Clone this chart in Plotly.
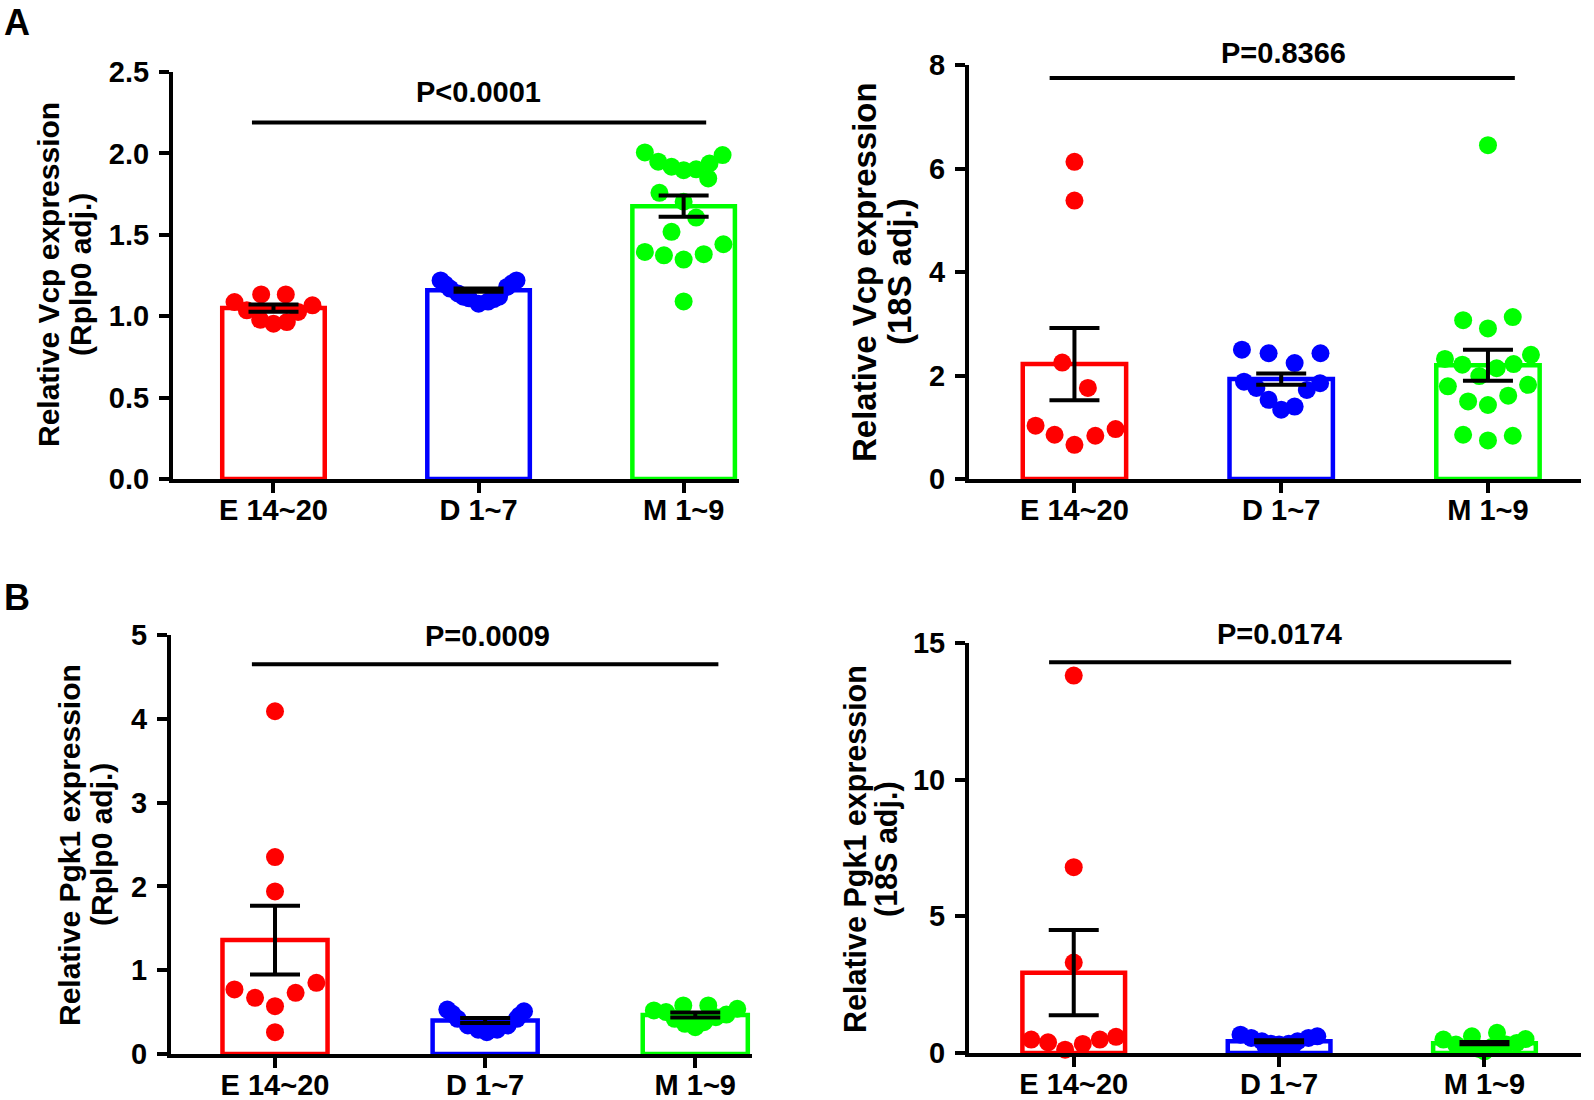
import plotly.graph_objects as go

groups = ["E 14~20", "D 1~7", "M 1~9"]
colors = ["#ff0000", "#0000ff", "#00ff00"]

# ---- Panel A left: Vcp (Rplp0 adj.) ----
a1_e = [1.087, 1.134, 1.134, 1.067, 1.036, 1.026, 0.978, 0.954, 0.964]
a1_e_dx = [-0.19, -0.06, 0.06, 0.19, -0.13, 0.12, -0.065, 0.0, 0.065]
a1_d = [1.22, 1.196, 1.17, 1.14, 1.12, 1.11, 1.077, 1.09, 1.105, 1.12, 1.18, 1.20, 1.22]
a1_d_dx = [-0.185, -0.163, -0.139, -0.10, -0.074, -0.046, 0.0, 0.046, 0.074, 0.10, 0.139, 0.163, 0.185]
a1_m = [2.006, 1.949, 1.918, 1.897, 1.902, 1.938, 1.99, 1.846, 1.758, 1.703,
        1.606, 1.518, 1.395, 1.374, 1.348, 1.381, 1.442, 1.091]
a1_m_dx = [-0.189, -0.124, -0.059, 0.0, 0.061, 0.126, 0.19, 0.12, -0.118, 0.0,
           0.061, -0.059, -0.189, -0.096, 0.0, 0.098, 0.194, 0.0]
a1_mean = [1.05, 1.16, 1.676]
a1_sem = [0.022, 0.01, 0.065]

# ---- Panel A right: Vcp (18S adj.) ----
a2_e = [6.13, 5.38, 2.25, 1.76, 1.03, 0.855, 0.66, 0.836, 0.965]
a2_e_dx = [0.0, 0.0, -0.059, 0.065, -0.188, -0.096, 0.0, 0.101, 0.199]
a2_d = [2.50, 2.43, 2.24, 2.43, 1.88, 1.76, 1.53, 1.34, 1.40, 1.72, 1.85]
a2_d_dx = [-0.19, -0.061, 0.065, 0.19, -0.18, -0.12, -0.061, 0.0, 0.065, 0.124, 0.188]
a2_m = [6.45, 3.07, 3.13, 2.91, 2.32, 2.21, 2.40, 2.22, 2.14, 1.99,
        1.79, 1.82, 1.50, 1.43, 1.61, 0.855, 0.746, 0.836]
a2_m_dx = [0.0, -0.12, 0.12, 0.0, -0.208, -0.124, 0.208, 0.124, 0.042, -0.042,
           -0.194, 0.194, -0.096, 0.0, 0.098, -0.12, 0.0, 0.12]
a2_mean = [2.22, 1.93, 2.2]
a2_sem = [0.70, 0.11, 0.30]

# ---- Panel B left: Pgk1 (Rplp0 adj.) ----
b1_e = [4.09, 2.35, 1.94, 0.77, 0.67, 0.57, 0.73, 0.85, 0.26]
b1_e_dx = [0.0, 0.0, 0.0, -0.193, -0.095, 0.0, 0.098, 0.197, 0.0]
b1_d = [0.53, 0.48, 0.42, 0.34, 0.29, 0.26, 0.29, 0.34, 0.42, 0.46, 0.51]
b1_d_dx = [-0.18, -0.156, -0.131, -0.082, -0.033, 0.008, 0.057, 0.107, 0.151, 0.164, 0.185]
b1_m = [0.52, 0.50, 0.58, 0.42, 0.36, 0.32, 0.38, 0.58, 0.44, 0.47, 0.54]
b1_m_dx = [-0.197, -0.139, -0.057, -0.098, -0.049, 0.0, 0.041, 0.062, 0.098, 0.148, 0.2]
b1_mean = [1.36, 0.40, 0.465]
b1_sem = [0.41, 0.03, 0.03]

# ---- Panel B right: Pgk1 (18S adj.) ----
b2_e = [13.81, 6.80, 3.31, 0.49, 0.39, 0.12, 0.33, 0.49, 0.59]
b2_e_dx = [0.0, 0.0, 0.0, -0.207, -0.125, -0.042, 0.044, 0.127, 0.206]
b2_d = [0.67, 0.55, 0.43, 0.25, 0.34, 0.31, 0.34, 0.25, 0.43, 0.55, 0.61]
b2_d_dx = [-0.188, -0.136, -0.084, -0.066, -0.04, 0.0, 0.047, 0.064, 0.09, 0.143, 0.186]
b2_m = [0.49, 0.31, 0.18, 0.15, 0.61, 0.06, 0.22, 0.74, 0.31, 0.37, 0.51]
b2_m_dx = [-0.2, -0.139, -0.087, -0.026, -0.061, 0.0, 0.035, 0.061, 0.105, 0.157, 0.2]
b2_mean = [2.94, 0.43, 0.36]
b2_sem = [1.56, 0.04, 0.04]

p_texts = ["P<0.0001", "P=0.8366", "P=0.0009", "P=0.0174"]
titles = [("Relative Vcp expression", "(Rplp0 adj.)"),
          ("Relative Vcp expression", "(18S adj.)"),
          ("Relative Pgk1 expression", "(Rplp0 adj.)"),
          ("Relative Pgk1 expression", "(18S adj.)")]

W, H = 1594, 1100
FONT = "Liberation Sans, Arial, sans-serif"

# pixel layout of each panel
panels = [
    dict(pts=[(a1_e, a1_e_dx), (a1_d, a1_d_dx), (a1_m, a1_m_dx)], mean=a1_mean, sem=a1_sem,
         px=(173, 739), py=(72, 479), xr=[-0.49, 2.27], yr=[0, 2.5], dtick=0.5, fmt=".1f",
         sig=(-0.105, 2.11, 2.19, 1.0, 92), tx=(48, 80, 275), tfs=30),
    dict(pts=[(a2_e, a2_e_dx), (a2_d, a2_d_dx), (a2_m, a2_m_dx)], mean=a2_mean, sem=a2_sem,
         px=(969, 1581), py=(65, 479), xr=[-0.51, 2.45], yr=[0, 8], dtick=2, fmt="d",
         sig=(-0.12, 2.13, 7.75, 1.01, 53), tx=(864, 899, 272), tfs=33),
    dict(pts=[(b1_e, b1_e_dx), (b1_d, b1_d_dx), (b1_m, b1_m_dx)], mean=b1_mean, sem=b1_sem,
         px=(171, 752), py=(635, 1054), xr=[-0.495, 2.27], yr=[0, 5], dtick=1, fmt="d",
         sig=(-0.11, 2.11, 4.65, 1.01, 636), tx=(69, 101, 845), tfs=30),
    dict(pts=[(b2_e, b2_e_dx), (b2_d, b2_d_dx), (b2_m, b2_m_dx)], mean=b2_mean, sem=b2_sem,
         px=(969, 1581), py=(643, 1053), xr=[-0.51, 2.47], yr=[0, 15], dtick=5, fmt="d",
         sig=(-0.12, 2.13, 14.3, 1.0, 634), tx=(855, 886, 849), tfs=30.5),
]

fig = go.Figure()
layout = dict(width=W, height=H, margin=dict(l=0, r=0, t=0, b=0, autoexpand=False),
              plot_bgcolor="white", paper_bgcolor="white", showlegend=False)
shapes = []
annotations = []

for k, p in enumerate(panels):
    n = "" if k == 0 else str(k + 1)
    xa, ya = "x" + n, "y" + n
    # bars
    fig.add_trace(go.Bar(x=[0, 1, 2], y=p["mean"], width=0.5, xaxis=xa, yaxis=ya,
                         marker=dict(color="rgba(0,0,0,0)", line=dict(color=colors, width=4.5))))
    # points
    for g, (vals, dx) in enumerate(p["pts"]):
        fig.add_trace(go.Scatter(x=[g + d for d in dx], y=vals, mode="markers", xaxis=xa, yaxis=ya,
                                 marker=dict(color=colors[g], size=18, line=dict(width=0)),
                                 cliponaxis=False))
    # error bars (mean +/- SEM)
    fig.add_trace(go.Scatter(x=[0, 1, 2], y=p["mean"], mode="markers", xaxis=xa, yaxis=ya,
                             marker=dict(size=1, color="rgba(0,0,0,0)"),
                             error_y=dict(type="data", array=p["sem"], color="black",
                                          thickness=4, width=25)))
    x0, x1 = p["px"]
    yt, yb = p["py"]
    layout["xaxis" + n] = dict(domain=[x0 / W, x1 / W], range=p["xr"], anchor=ya,
                               tickvals=[0, 1, 2], ticktext=groups, showline=True,
                               linecolor="black", linewidth=4, ticks="outside", ticklen=10,
                               tickwidth=4, tickcolor="black", showgrid=False, zeroline=False,
                               automargin=False, ticklabelstandoff=-8,
                               tickfont=dict(family=FONT, size=29, color="black", weight="bold"))
    layout["yaxis" + n] = dict(domain=[1 - yb / H, 1 - yt / H], range=p["yr"], anchor=xa,
                               dtick=p["dtick"], tick0=0, tickformat=p["fmt"], showline=True,
                               linecolor="black", linewidth=4, ticks="outside", ticklen=10,
                               tickwidth=4, tickcolor="black", showgrid=False, zeroline=False,
                               automargin=False, ticklabelstandoff=4,
                               tickfont=dict(family=FONT, size=29, color="black", weight="bold"))
    sx0, sx1, sy, tx, ty = p["sig"]
    shapes.append(dict(type="line", xref=xa, yref=ya, x0=sx0, x1=sx1, y0=sy, y1=sy,
                       line=dict(color="black", width=4)))
    annotations.append(dict(xref=xa, yref="paper", x=tx, y=1 - ty / H, text=p_texts[k],
                            showarrow=False, yanchor="middle",
                            font=dict(family=FONT, size=29, color="black", weight="bold")))
    l1x, l2x, cy = p["tx"]
    for txt, lx in zip(titles[k], (l1x, l2x)):
        annotations.append(dict(xref="paper", yref="paper", x=lx / W, y=1 - cy / H,
                                text=txt, textangle=-90, showarrow=False,
                                xanchor="center", yanchor="middle",
                                font=dict(family=FONT, size=p["tfs"], color="black",
                                          weight="bold")))

for letter, lx, ly in [("A", 17, 23), ("B", 17, 597)]:
    annotations.append(dict(xref="paper", yref="paper", x=lx / W, y=1 - ly / H, text=letter,
                            showarrow=False, xanchor="center", yanchor="middle",
                            font=dict(family=FONT, size=36, color="black", weight="bold")))

layout["shapes"] = shapes
layout["annotations"] = annotations
fig.update_layout(**layout)
fig.write_html("out.html", config={"displayModeBar": False},
               post_script="document.body.style.margin='0px';")
